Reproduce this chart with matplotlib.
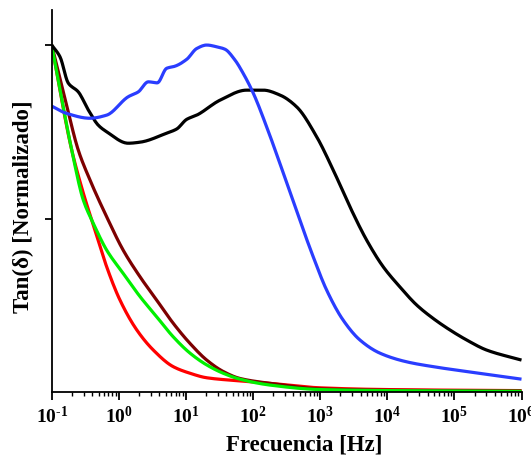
import matplotlib
matplotlib.use("Agg")
import numpy as np
import matplotlib.pyplot as plt
from matplotlib.ticker import LogLocator, NullFormatter, FixedLocator, FixedFormatter

plt.rcParams['font.family'] = ['Liberation Serif', 'DejaVu Serif']
plt.rcParams['font.weight'] = 'bold'
plt.rcParams['mathtext.fontset'] = 'custom'
plt.rcParams['mathtext.rm'] = 'Liberation Serif:bold'
plt.rcParams['mathtext.it'] = 'Liberation Serif:bold:italic'
plt.rcParams['mathtext.bf'] = 'Liberation Serif:bold'

# Data (normalized tan delta vs frequency)
f_black = [0.1, 0.133, 0.177, 0.249, 0.351, 0.494, 0.659, 1.38, 2.07, 5.16, 7.28, 10.3, 14.5,
           32.1, 80.2, 142, 251, 446, 885, 1563, 2773, 4920, 8690, 15400, 27300, 48300,
           85500, 152000, 301000, 1e6]
v_black = [1.0, 0.966, 0.890, 0.865, 0.813, 0.769, 0.750, 0.717, 0.720, 0.746, 0.758, 0.786, 0.798,
           0.841, 0.870, 0.870, 0.856, 0.822, 0.736, 0.640, 0.534, 0.438, 0.361, 0.303, 0.251, 0.212,
           0.179, 0.150, 0.121, 0.092]

f_blue = [0.1, 0.167, 0.372, 0.659, 1.38, 1.95, 2.75, 3.74, 5.16, 6.86, 10.3, 14.5, 20.4, 28.7,
          38.1, 53.7, 71.5, 101, 159, 251, 421, 787, 1247, 2203, 3908, 7762, 19400, 48300,
          152000, 1e6]
v_blue = [0.824, 0.803, 0.789, 0.798, 0.851, 0.865, 0.894, 0.891, 0.933, 0.939, 0.959, 0.990, 1.0, 0.995,
          0.988, 0.957, 0.918, 0.861, 0.765, 0.659, 0.535, 0.390, 0.294, 0.207, 0.150, 0.112, 0.087, 0.073,
          0.059, 0.037]

f_maroon = [0.1, 0.156, 0.249, 0.372, 0.659, 1.16, 2.07, 3.66, 6.47, 11.5, 20.4, 36.0, 63.8, 178,
            1000, 10000, 1e6]
v_maroon = [1.0, 0.850, 0.697, 0.611, 0.505, 0.409, 0.332, 0.265, 0.198, 0.140, 0.092, 0.059, 0.039, 0.025,
            0.009, 0.005, 0.003]

f_green = [0.1, 0.199, 0.296, 0.417, 0.659, 1.16, 2.07, 3.66, 6.47, 11.5, 20.4, 36.0, 63.8, 178,
           1000, 10000, 1e6]
v_green = [1.0, 0.697, 0.553, 0.486, 0.409, 0.342, 0.275, 0.217, 0.159, 0.112, 0.078, 0.054, 0.037, 0.020,
           0.007, 0.004, 0.002]

f_red = [0.1, 0.199, 0.296, 0.441, 0.659, 1.04, 1.85, 3.26, 6.47, 11.5, 20.4, 63.8, 178,
         1000, 10000, 1e6]
v_red = [1.0, 0.697, 0.573, 0.467, 0.361, 0.265, 0.179, 0.121, 0.073, 0.054, 0.041, 0.032, 0.025,
         0.012, 0.007, 0.004]

xtick_vals = [0.1, 1, 10, 100, 1000, 10000, 100000, 1000000]
xtick_labels = [r'10$^{\text{-1}}$', r'10$^{0}$', r'10$^{1}$', r'10$^{2}$',
                r'10$^{3}$', r'10$^{4}$', r'10$^{5}$', r'10$^{6}$']


def smooth_line(f, v, n=400):
    """Shape-preserving (PCHIP) line drawn through the read points, in log-frequency."""
    x = np.log10(np.asarray(f, float))
    y = np.asarray(v, float)
    h = np.diff(x)
    d = np.diff(y) / h
    m = np.zeros_like(y)
    for k in range(1, len(y) - 1):
        if d[k - 1] * d[k] > 0:
            w1 = 2 * h[k] + h[k - 1]
            w2 = h[k] + 2 * h[k - 1]
            m[k] = (w1 + w2) / (w1 / d[k - 1] + w2 / d[k])
    m[0] = d[0]
    m[-1] = d[-1]
    xn = np.linspace(x[0], x[-1], n)
    idx = np.clip(np.searchsorted(x, xn) - 1, 0, len(h) - 1)
    t = (xn - x[idx]) / h[idx]
    h00 = 2 * t**3 - 3 * t**2 + 1
    h10 = t**3 - 2 * t**2 + t
    h01 = -2 * t**3 + 3 * t**2
    h11 = t**3 - t**2
    yn = h00 * y[idx] + h10 * h[idx] * m[idx] + h01 * y[idx + 1] + h11 * h[idx] * m[idx + 1]
    return 10**xn, yn


fig = plt.figure(figsize=(5.31, 4.61), dpi=100)
ax = fig.add_axes([51.7/531, 1 - 392/461, (521.5 - 51.7)/531, (392 - 10)/461])

lw = 2.3
series = [(f_red, v_red, '#ff0000'), (f_maroon, v_maroon, '#7d0000'),
          (f_green, v_green, '#00f000'), (f_black, v_black, '#000000'),
          (f_blue, v_blue, '#2a3dff')]
for f, v, c in series:
    xs, ys = smooth_line(f, v)
    ax.plot(xs, ys, color=c, lw=lw, solid_capstyle='butt')

ax.set_xscale('log')
ax.set_xlim(0.1, 1e6)
ax.set_ylim(0, 1.101)

for s in ['top', 'right']:
    ax.spines[s].set_visible(False)
for s in ['left', 'bottom']:
    ax.spines[s].set_linewidth(1.3)

ax.xaxis.set_major_locator(FixedLocator(xtick_vals))
ax.xaxis.set_major_formatter(FixedFormatter(xtick_labels))
ax.xaxis.set_minor_locator(LogLocator(base=10, subs=range(2, 10), numticks=100))
ax.xaxis.set_minor_formatter(NullFormatter())
ax.yaxis.set_major_locator(FixedLocator([0.5, 1.0]))
ax.set_yticklabels([])

ax.tick_params(axis='x', which='major', direction='out', length=6, width=1.3, labelsize=14, pad=4)
ax.tick_params(axis='x', which='minor', direction='out', length=3, width=1.0)
ax.tick_params(axis='y', which='major', direction='out', length=5, width=1.3)
for lab in ax.get_xticklabels():
    lab.set_fontweight('bold')

ax.set_xlabel('Frecuencia [Hz]', fontsize=16.5, fontweight='bold')
ax.xaxis.set_label_coords(0.537, -0.112)
ax.set_ylabel('Tan(δ) [Normalizado]', fontsize=16.5, fontweight='bold')
ax.yaxis.set_label_coords(-0.037, 0.484)

fig.savefig('out.png', dpi=100)
